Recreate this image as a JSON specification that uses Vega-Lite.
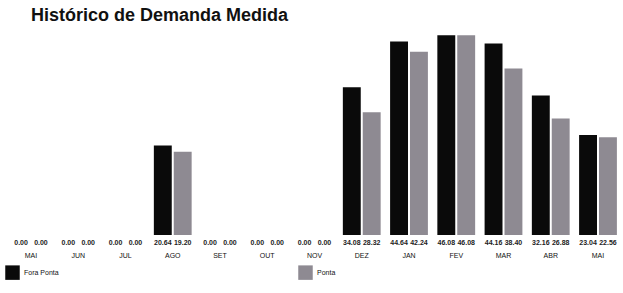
{
  "$schema": "https://vega.github.io/schema/vega-lite/v6.json",
  "width": 615,
  "height": 206,
  "autosize": {"type": "none"},
  "padding": {"left": 7, "top": 29, "right": 1, "bottom": 58},
  "background": "white",
  "title": {
    "text": "Histórico de Demanda Medida",
    "anchor": "start",
    "dx": 26,
    "offset": 4,
    "font": "Liberation Sans",
    "fontSize": 18,
    "fontWeight": "bold",
    "color": "#111111"
  },
  "config": {"view": {"stroke": null}},
  "data": {
    "values": [
      {"periodo": "MAI-1", "serie": "Fora Ponta", "valor": 0.00},
      {"periodo": "MAI-1", "serie": "Ponta", "valor": 0.00},
      {"periodo": "JUN", "serie": "Fora Ponta", "valor": 0.00},
      {"periodo": "JUN", "serie": "Ponta", "valor": 0.00},
      {"periodo": "JUL", "serie": "Fora Ponta", "valor": 0.00},
      {"periodo": "JUL", "serie": "Ponta", "valor": 0.00},
      {"periodo": "AGO", "serie": "Fora Ponta", "valor": 20.64},
      {"periodo": "AGO", "serie": "Ponta", "valor": 19.20},
      {"periodo": "SET", "serie": "Fora Ponta", "valor": 0.00},
      {"periodo": "SET", "serie": "Ponta", "valor": 0.00},
      {"periodo": "OUT", "serie": "Fora Ponta", "valor": 0.00},
      {"periodo": "OUT", "serie": "Ponta", "valor": 0.00},
      {"periodo": "NOV", "serie": "Fora Ponta", "valor": 0.00},
      {"periodo": "NOV", "serie": "Ponta", "valor": 0.00},
      {"periodo": "DEZ", "serie": "Fora Ponta", "valor": 34.08},
      {"periodo": "DEZ", "serie": "Ponta", "valor": 28.32},
      {"periodo": "JAN", "serie": "Fora Ponta", "valor": 44.64},
      {"periodo": "JAN", "serie": "Ponta", "valor": 42.24},
      {"periodo": "FEV", "serie": "Fora Ponta", "valor": 46.08},
      {"periodo": "FEV", "serie": "Ponta", "valor": 46.08},
      {"periodo": "MAR", "serie": "Fora Ponta", "valor": 44.16},
      {"periodo": "MAR", "serie": "Ponta", "valor": 38.40},
      {"periodo": "ABR", "serie": "Fora Ponta", "valor": 32.16},
      {"periodo": "ABR", "serie": "Ponta", "valor": 26.88},
      {"periodo": "MAI-2", "serie": "Fora Ponta", "valor": 23.04},
      {"periodo": "MAI-2", "serie": "Ponta", "valor": 22.56}
    ]
  },
  "encoding": {
    "x": {
      "field": "periodo",
      "type": "nominal",
      "sort": null,
      "scale": {"paddingInner": 0.2, "paddingOuter": 0.108},
      "axis": {
        "title": null,
        "domain": false,
        "ticks": false,
        "labelAngle": 0,
        "labelPadding": 16,
        "labelFont": "Liberation Sans",
        "labelFontSize": 7,
        "labelColor": "#111111",
        "labelExpr": "split(datum.label, '-')[0]"
      }
    },
    "xOffset": {"field": "serie", "type": "nominal", "sort": ["Fora Ponta", "Ponta"], "scale": {"paddingInner": 0.1}}
  },
  "layer": [
    {
      "mark": {"type": "bar"},
      "encoding": {
        "y": {
          "field": "valor",
          "type": "quantitative",
          "scale": {"domain": [0, 47.5], "nice": false},
          "axis": null
        },
        "color": {
          "field": "serie",
          "type": "nominal",
          "scale": {"domain": ["Fora Ponta", "Ponta"], "range": ["#0a0a0a", "#8e8a92"]},
          "legend": {
            "title": null,
            "orient": "none",
            "legendX": -2,
            "legendY": 236,
            "direction": "horizontal",
            "columns": 2,
            "columnPadding": 239,
            "symbolType": "square",
            "symbolSize": 210,
            "symbolStrokeWidth": 0,
            "labelFont": "Liberation Sans",
            "labelFontSize": 7,
            "labelColor": "#111111",
            "labelOffset": 4
          }
        }
      }
    },
    {
      "mark": {"type": "text", "baseline": "middle", "dy": 8, "font": "Liberation Sans", "fontSize": 7, "fontWeight": "bold", "color": "#222222"},
      "encoding": {
        "y": {"datum": 0, "type": "quantitative"},
        "text": {"field": "valor", "type": "quantitative", "format": ".2f"}
      }
    }
  ]
}
